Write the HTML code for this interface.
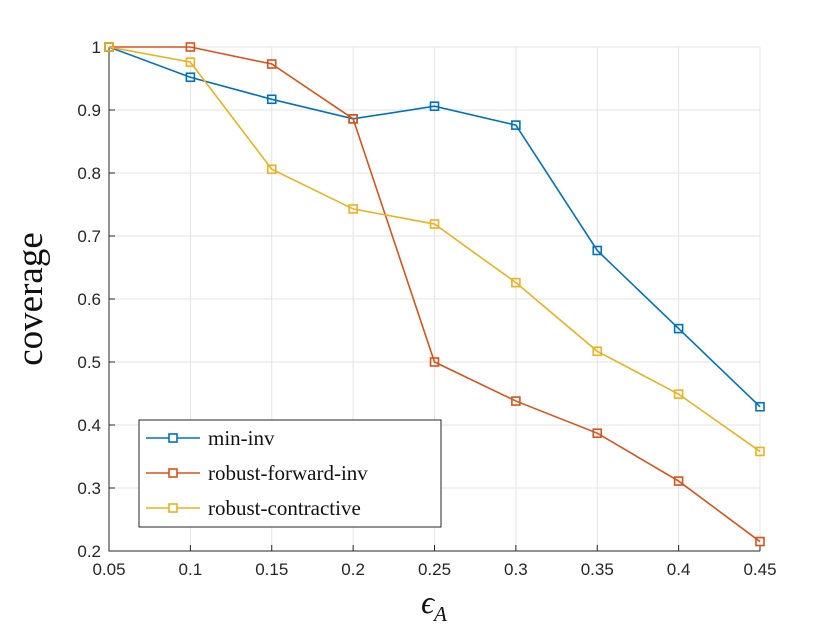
<!DOCTYPE html>
<html><head><meta charset="utf-8"><style>
body{margin:0;background:#fff;}
svg text{font-family:"Liberation Sans",sans-serif;}
</style></head><body>
<svg id="chart" width="840" height="630" xmlns="http://www.w3.org/2000/svg">
<rect width="840" height="630" fill="#fff"/>
<g id="grid"></g>
<g id="axes"></g>
<g id="series"></g>
<text x="42" y="299" transform="rotate(-90 42 299)" text-anchor="middle" font-size="37" fill="#111" style="font-family:'Liberation Serif',serif">coverage</text>
<text x="434" y="613" text-anchor="middle" font-size="32" fill="#111" style="font-family:'Liberation Serif',serif;font-style:italic">ϵ<tspan font-size="21" dy="8">A</tspan></text>
<g id="legend"></g>
</svg>
<script>
const xCats=[0.05,0.1,0.15,0.2,0.25,0.3,0.35,0.4,0.45];
const xTickLabels=["0.05","0.1","0.15","0.2","0.25","0.3","0.35","0.4","0.45"];
const yTicks=[0.2,0.3,0.4,0.5,0.6,0.7,0.8,0.9,1];
const yTickLabels=["0.2","0.3","0.4","0.5","0.6","0.7","0.8","0.9","1"];
const seriesNames=["min-inv","robust-forward-inv","robust-contractive"];
const minInv=[1,0.952,0.917,0.886,0.906,0.876,0.677,0.553,0.429];
const robustForward=[1,1,0.973,0.886,0.500,0.438,0.387,0.311,0.215];
const robustContractive=[1,0.976,0.806,0.743,0.719,0.626,0.517,0.449,0.358];
const colors=["#0072BD","#D95319","#EDB120"];
const L=109,R=760,T=47,B=551;
const xs=v=>L+(v-0.05)/(0.4)*(R-L);
const ys=v=>B-(v-0.2)/(0.8)*(B-T);
const NS="http://www.w3.org/2000/svg";
function mk(tag,attrs,parent){const e=document.createElementNS(NS,tag);for(const k in attrs)e.setAttribute(k,attrs[k]);parent.appendChild(e);return e;}
const grid=document.getElementById('grid'),axes=document.getElementById('axes'),ser=document.getElementById('series'),leg=document.getElementById('legend');
xCats.forEach((v,i)=>{const x=xs(v);
 const g=mk('line',{x1:x,x2:x,y1:T,y2:B,stroke:'#e3e3e3','stroke-width':1},grid);
 
 mk('line',{x1:x,x2:x,y1:B,y2:B-6,stroke:'#262626'},axes);
 const t=mk('text',{x:x,y:B+24,'text-anchor':'middle','font-size':17,fill:'#262626'},axes);t.textContent=xTickLabels[i];
 });
yTicks.forEach((v,i)=>{const y=ys(v);
 const g=mk('line',{x1:L,x2:R,y1:y,y2:y,stroke:'#e3e3e3','stroke-width':1},grid);
 
 mk('line',{x1:L,x2:L+6,y1:y,y2:y,stroke:'#262626'},axes);
 const t=mk('text',{x:L-8,y:y+6,'text-anchor':'end','font-size':17,fill:'#262626'},axes);t.textContent=yTickLabels[i];
 });
const ax=mk('path',{d:`M${L},${T}V${B}H${R}`,fill:'none',stroke:'#262626','stroke-width':1},axes);

[minInv,robustForward,robustContractive].forEach((arr,si)=>{
 const p=mk('polyline',{points:arr.map((v,i)=>xs(xCats[i])+','+ys(v)).join(' '),fill:'none',stroke:colors[si],'stroke-width':1.6},ser);
 
 arr.forEach((v,i)=>{const m=mk('rect',{x:xs(xCats[i])-4,y:ys(v)-4,width:8,height:8,fill:'none',stroke:colors[si],'stroke-width':1.6},ser);
  });
});
mk('rect',{x:139,y:420,width:302,height:107,fill:'#fff',stroke:'#262626','stroke-width':1},leg);
seriesNames.forEach((n,i)=>{const y=438+i*35;
 mk('line',{x1:146,x2:200,y1:y,y2:y,stroke:colors[i],'stroke-width':1.6},leg);
 mk('rect',{x:169,y:y-4,width:8,height:8,fill:'#fff',stroke:colors[i],'stroke-width':1.6},leg);
 const t=mk('text',{x:208,y:y+7,'font-size':21,fill:'#111',style:"font-family:'Liberation Serif',serif"},leg);t.textContent=n;
 });
</script>
</body></html>
